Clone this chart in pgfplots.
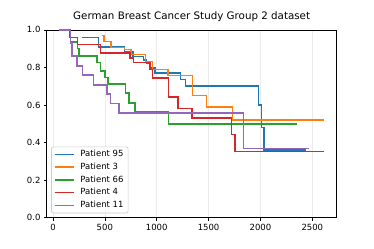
\documentclass[border=0pt]{standalone}
\usepackage{fontspec}
\setmainfont{DejaVu Sans}
\usepackage{pgfplots}
\pgfplotsset{compat=1.18}
\definecolor{c0}{HTML}{1F77B4}
\definecolor{c1}{HTML}{FF7F0E}
\definecolor{c2}{HTML}{2CA02C}
\definecolor{c3}{HTML}{D62728}
\definecolor{c4}{HTML}{9467BD}
\begin{document}
\begin{tikzpicture}
\useasboundingbox (-46.75bp,-31.3bp) rectangle (327.25bp,217.7bp);
\begin{axis}[
  at={(0,0)}, anchor=south west, scale only axis,
  width=289.85bp, height=187.8bp,
  xmin=-60, xmax=2734, ymin=0, ymax=1,
  xtick={0,500,1000,1500,2000,2500},
  ytick={0,0.2,0.4,0.6,0.8,1.0},
  tick pos=left, tick align=outside,
  major tick length=2.8bp,
  every tick/.style={black, line width=0.65bp},
  axis line style={line width=0.65bp},
  xmajorgrids, grid style={black!8, line width=0.65bp},
  /pgf/number format/assume math mode=true,
  ticklabel style={font=\fontsize{8.5bp}{9.5bp}\selectfont},
  xticklabel style={/pgf/number format/1000 sep={}},
  yticklabel style={/pgf/number format/.cd, fixed, fixed zerofill, precision=1},
  title={German Breast Cancer Study Group 2 dataset},
  title style={at={(0.5,1)}, anchor=base, yshift=4.9bp, font=\fontsize{10.3bp}{12bp}\selectfont},
  legend cell align=left,
  legend image code/.code={\draw[#1] (0bp,0bp) -- (19.4bp,0bp);},
  legend style={at={(0,0)}, anchor=south west, xshift=4.4bp, yshift=4.4bp,
    draw=black!20, line width=0.65bp, rounded corners=2bp, fill=white, fill opacity=0.8, text opacity=1,
    font=\fontsize{8.5bp}{9.5bp}\selectfont, inner xsep=2.4bp, inner ysep=2bp, row sep=1.9bp,
    nodes={inner xsep=2.2bp, inner ysep=1.5bp, text height=6.2bp, text depth=1.7bp},
    /tikz/every odd column/.append style={column sep=3.5bp}},
  every axis plot/.append style={line width=1.4bp, const plot},
]
\addplot[c0] coordinates {
(280,0.958) (440,0.909) (690,0.883) (770,0.857) (870,0.840) (900,0.820) (930,0.797) (985,0.770)
(1228,0.736) (1275,0.702) (1979,0.601) (2008,0.480) (2035,0.361) (2440,0.361)};
\addlegendentry{Patient 95}
\addplot[c1] coordinates {
(471,0.970) (490,0.937) (561,0.905) (690,0.895) (751,0.870) (891,0.832) (960,0.790) (1110,0.757)
(1345,0.650) (1478,0.590) (1730,0.520) (2612,0.520)};
\addlegendentry{Patient 3}
\addplot[c2] coordinates {
(62,1.0) (168,0.935) (237,0.900) (250,0.860) (425,0.826) (457,0.782) (500,0.745) (530,0.712)
(700,0.665) (734,0.610) (792,0.562) (1113,0.498) (2355,0.498)};
\addlegendentry{Patient 66}
\addplot[c3] coordinates {
(62,1.0) (165,0.960) (235,0.922) (460,0.877) (744,0.850) (776,0.828) (937,0.790) (962,0.743)
(1113,0.643) (1205,0.583) (1340,0.530) (1720,0.443) (1755,0.354) (2610,0.354)};
\addlegendentry{Patient 4}
\addplot[c4] coordinates {
(62,1.0) (168,0.930) (185,0.860) (231,0.807) (285,0.760) (391,0.707) (520,0.658) (552,0.608)
(635,0.557) (1838,0.370) (2470,0.370)};
\addlegendentry{Patient 11}
\end{axis}
\end{tikzpicture}
\end{document}
